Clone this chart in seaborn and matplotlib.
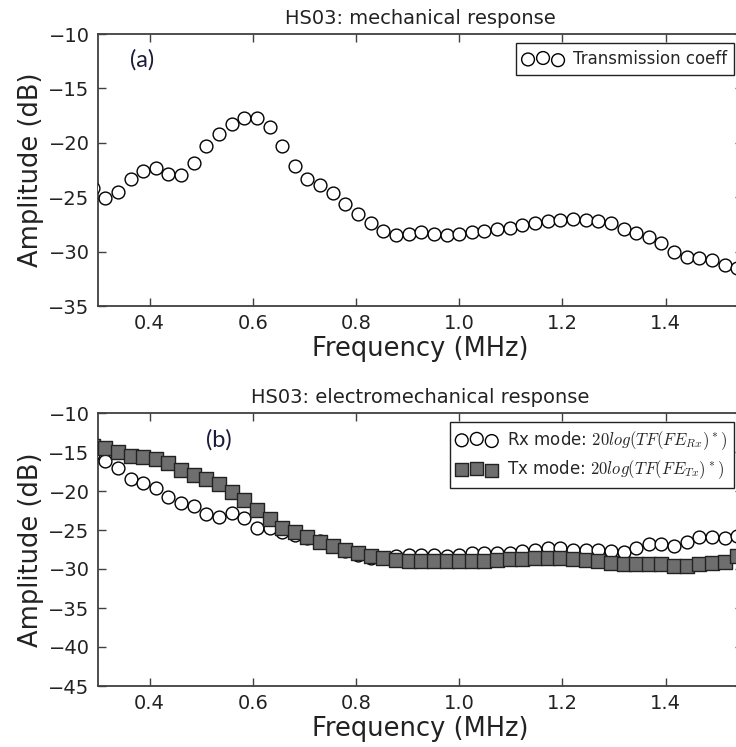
import numpy as np
import pandas as pd
import seaborn as sns
import matplotlib.pyplot as plt

sns.set_style("ticks")
plt.rcParams['font.family'] = ['DejaVu Sans']
plt.rcParams['mathtext.fontset'] = 'cm'
plt.rcParams['xtick.direction'] = 'in'
plt.rcParams['ytick.direction'] = 'in'

# frequency grid (MHz)
freq = [0.2895, 0.314, 0.3385, 0.363, 0.3875, 0.412, 0.4365, 0.461, 0.4855, 0.510,
        0.5345, 0.559, 0.5835, 0.608, 0.6325, 0.657, 0.6815, 0.706, 0.7305, 0.755,
        0.7795, 0.804, 0.8285, 0.853, 0.8775, 0.902, 0.9265, 0.951, 0.9755, 1.0,
        1.0245, 1.049, 1.0735, 1.098, 1.1225, 1.147, 1.1715, 1.196, 1.2205, 1.245,
        1.2695, 1.294, 1.3185, 1.343, 1.3675, 1.392, 1.4165, 1.441, 1.4655, 1.49,
        1.5145, 1.539]

# (a) transmission coefficient
trans_coeff = [-24.2, -25.1, -24.5, -23.3, -22.55, -22.3, -22.9, -23.0, -21.9, -20.3,
               -19.2, -18.3, -17.7, -17.7, -18.55, -20.25, -22.1, -23.3, -23.9, -24.6,
               -25.6, -26.55, -27.4, -28.15, -28.5, -28.35, -28.2, -28.35, -28.5, -28.4,
               -28.2, -28.1, -27.95, -27.8, -27.55, -27.4, -27.15, -27.1, -27.0, -27.1,
               -27.15, -27.4, -27.9, -28.3, -28.7, -29.2, -30.0, -30.5, -30.55, -30.8,
               -31.2, -31.5]

# (b) Rx / Tx modes
rx_mode = [-15.3, -16.1, -17.0, -18.4, -18.95, -19.6, -20.75, -21.5, -21.95, -23.0,
           -23.35, -22.8, -23.5, -24.7, -24.75, -25.2, -25.6, -26.05, -26.35, -27.0,
           -27.65, -28.2, -28.6, -28.6, -28.35, -28.2, -28.2, -28.25, -28.3, -28.2,
           -28.0, -27.9, -28.0, -27.9, -27.65, -27.5, -27.35, -27.25, -27.5, -27.55,
           -27.55, -27.7, -27.8, -27.35, -26.8, -26.8, -27.05, -26.6, -25.85, -25.85,
           -26.05, -25.75]
tx_mode = [-14.2, -14.45, -15.0, -15.5, -15.6, -15.85, -16.45, -17.3, -18.0, -18.5,
           -19.15, -20.15, -21.2, -22.4, -23.6, -24.7, -25.3, -25.95, -26.5, -27.0,
           -27.55, -28.0, -28.35, -28.55, -28.85, -29.0, -29.0, -29.0, -29.0, -28.95,
           -28.95, -28.95, -28.85, -28.75, -28.7, -28.65, -28.55, -28.55, -28.75, -28.85,
           -28.95, -29.2, -29.3, -29.4, -29.4, -29.4, -29.6, -29.6, -29.3, -29.2,
           -29.1, -28.35]

df = pd.DataFrame({"freq": freq, "trans": trans_coeff, "rx": rx_mode, "tx": tx_mode})

fig = plt.figure(figsize=(7.36, 7.47), dpi=100)
ax1 = fig.add_axes([98 / 736, 1 - 306 / 747, 645 / 736, 272 / 747])
ax2 = fig.add_axes([98 / 736, 1 - 686 / 747, 645 / 736, 273 / 747])

sns.scatterplot(data=df, x="freq", y="trans", ax=ax1, marker="o", s=85,
                facecolor="white", edgecolor="black", linewidth=1,
                label="Transmission coeff", legend=False, zorder=3)

sns.scatterplot(data=df, x="freq", y="rx", ax=ax2, marker="o", s=85,
                facecolor="white", edgecolor="black", linewidth=1,
                label=r"Rx mode: $20log(TF(FE_{Rx})^*)$", legend=False, zorder=3)
sns.scatterplot(data=df, x="freq", y="tx", ax=ax2, marker="s", s=90,
                facecolor="#6e6e6e", edgecolor="#222222", linewidth=1,
                label=r"Tx mode: $20log(TF(FE_{Tx})^*)$", legend=False, zorder=4)

titles = ["HS03: mechanical response", "HS03: electromechanical response"]
for ax, ylim, title in [(ax1, (-35, -10), titles[0]), (ax2, (-45, -10), titles[1])]:
    ax.set_xlim(0.3, 1.55)
    ax.set_ylim(*ylim)
    ax.set_xticks([0.4, 0.6, 0.8, 1.0, 1.2, 1.4])
    ax.set_xticklabels(["0.4", "0.6", "0.8", "1.0", "1.2", "1.4"])
    ax.tick_params(axis="both", labelsize=14, length=6, width=1, color="#404040",
                   labelcolor="#222222", top=True, right=True, pad=6)
    for sp in ax.spines.values():
        sp.set_color("#404040")
        sp.set_linewidth(1.3)
    ax.set_title(title, fontsize=14, color="#222222", pad=7)
    ax.set_xlabel("Frequency (MHz)", fontsize=18.5, color="#222222", labelpad=2)
    ax.set_ylabel("Amplitude (dB)", fontsize=18.5, color="#222222", labelpad=3)
    ax.legend(loc="upper right", scatterpoints=3, fontsize=12, fancybox=False,
              framealpha=1, edgecolor="#222222", borderaxespad=0.55,
              handletextpad=0.6, handlelength=2.4, borderpad=0.4,
              labelspacing=0.4)

ax1.text(0.386, -12.4, "(a)", fontsize=17, color="#1c1c3a", family="Lato",
         ha="center", va="center")
ax2.text(0.534, -13.5, "(b)", fontsize=17, color="#1c1c3a", family="Lato",
         ha="center", va="center")

fig.savefig("out.png", dpi=100)
